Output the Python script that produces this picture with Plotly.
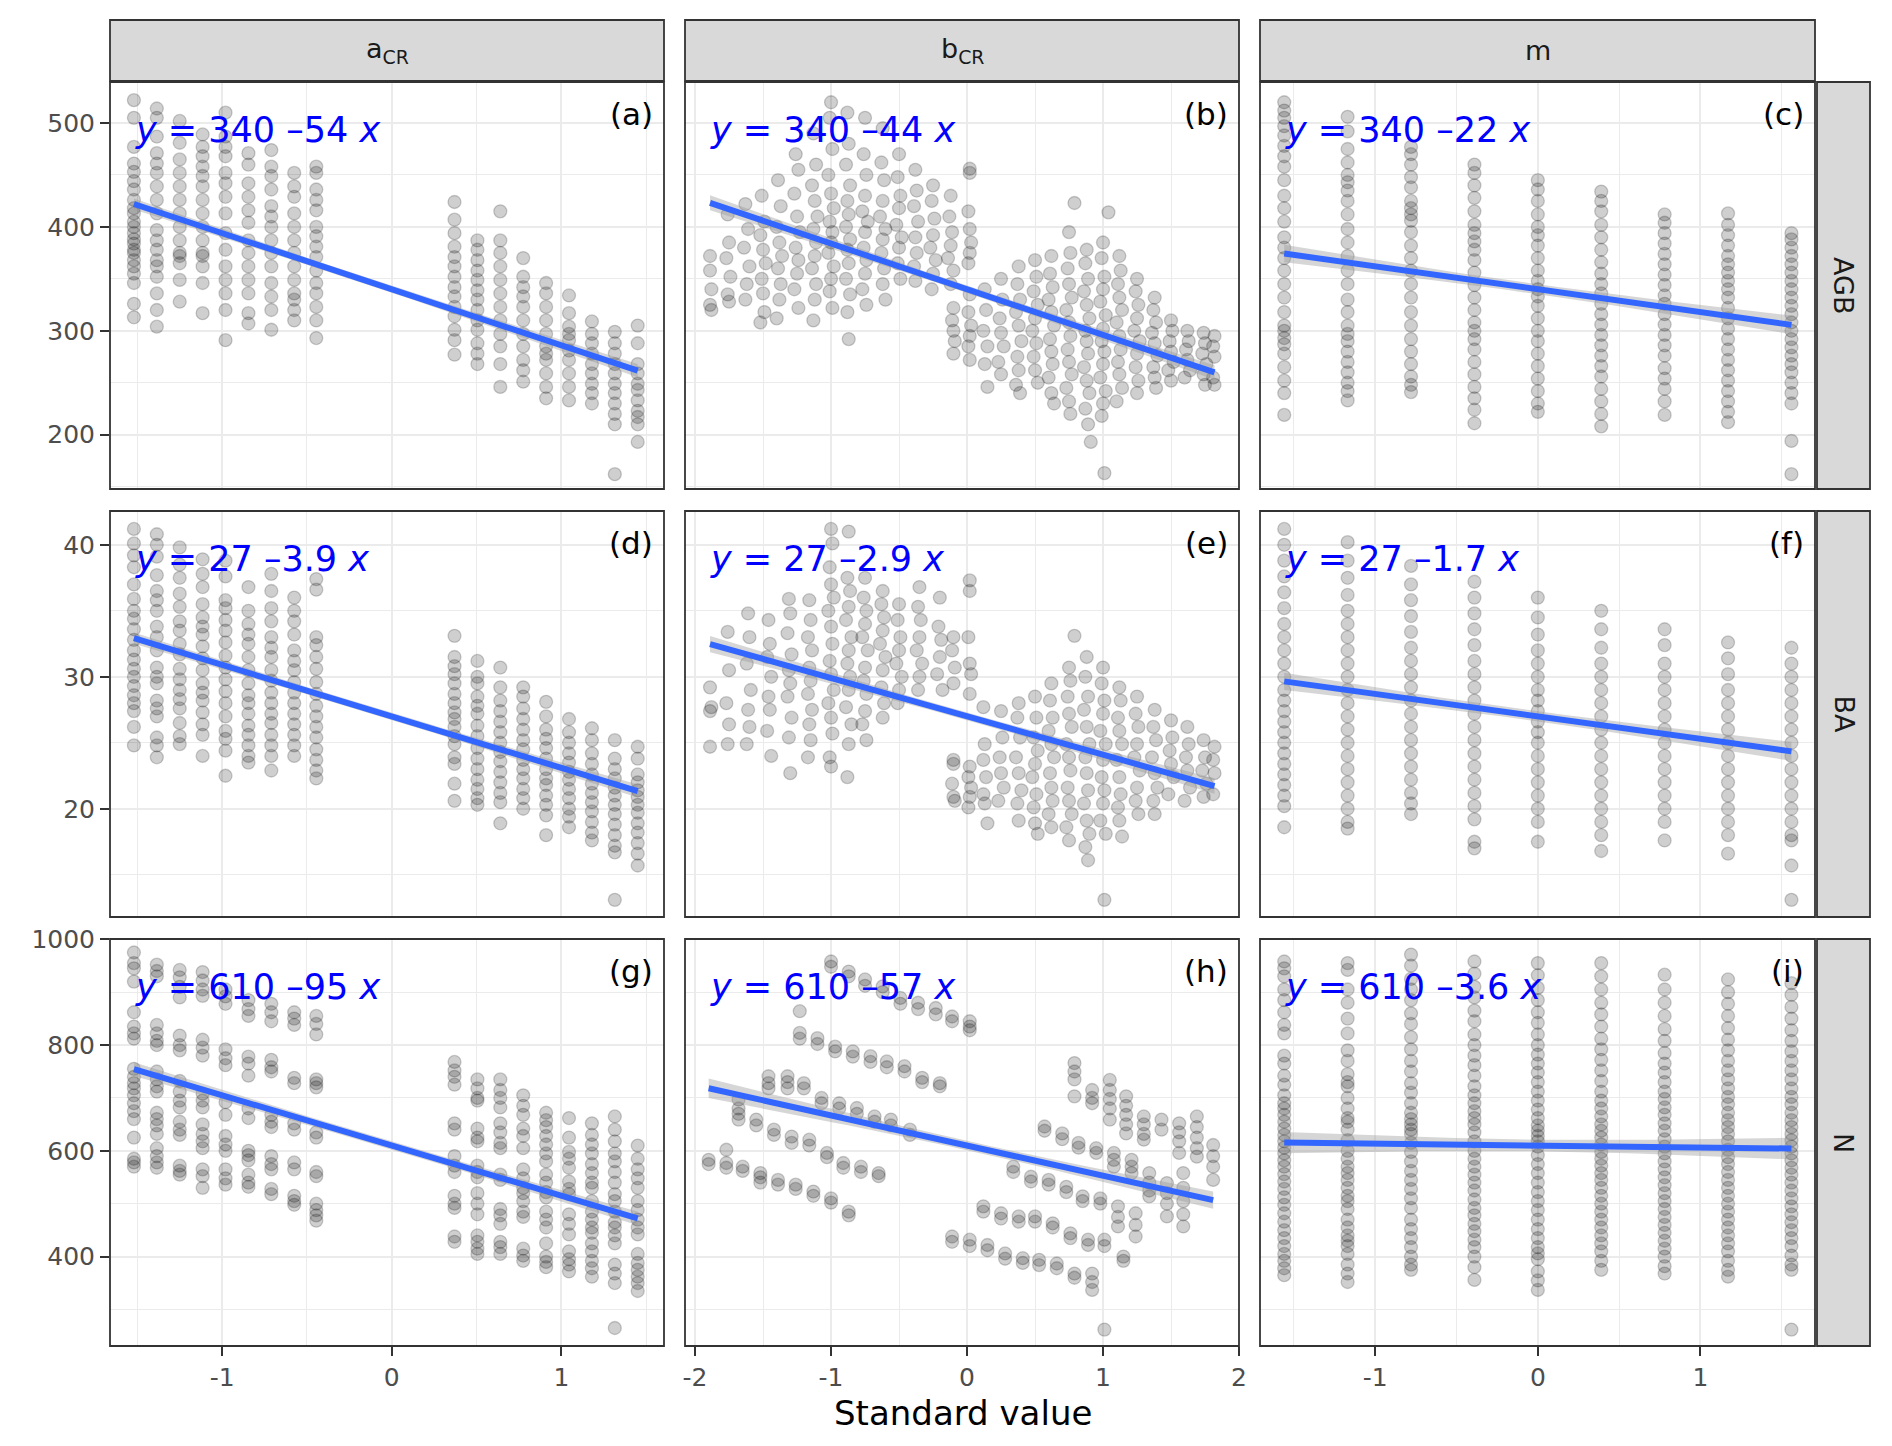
"""
plot.py - faceted scatter of AGB / BA / N against standardised a_CR, b_CR and m,
with a linear fit (line + 95% band) and the fitted equation in every panel.
"""

import numpy as np
import plotly.graph_objects as go

# ---------------------------------------------------------------------------
# DATA
# ---------------------------------------------------------------------------
ROW_LABELS = ["AGB", "BA", "N"]
COL_LABELS = ["a<sub>CR</sub>", "b<sub>CR</sub>", "m"]
PANEL_TAGS = ["(a)", "(b)", "(c)", "(d)", "(e)", "(f)", "(g)", "(h)", "(i)"]

# fitted coefficients shown in the panels
INTERCEPTS = [340, 27, 610]
SLOPES = [[-54, -44, -22], [-3.9, -2.9, -1.7], [-95, -57, -3.6]]
N_RUNS = 900  # size of the full simulation set behind the fit

# standardised levels of the discrete designs
ACR_LEVELS = [-1.52, -1.385, -1.25, -1.115, -0.98, -0.845, -0.71, -0.575, -0.445,
              0.37, 0.505, 0.64, 0.775, 0.91, 1.045, 1.18, 1.315, 1.45]
M_LEVELS = [-1.56, -1.17, -0.78, -0.39, 0.0, 0.39, 0.78, 1.17, 1.56]

# ---- AGB ------------------------------------------------------------------
AGB_ACR = [
    [522, 505, 477, 461, 453, 444, 436, 426, 418, 413, 405, 400, 394, 388, 384, 378, 375, 368, 362, 355, 346, 326, 313],
    [514, 505, 487, 471, 461, 452, 439, 426, 413, 397, 387, 378, 368, 362, 352, 336, 320, 304],
    [502, 481, 465, 452, 439, 426, 413, 400, 387, 375, 372, 365, 349, 328],
    [489, 477, 468, 458, 449, 439, 426, 413, 400, 387, 375, 372, 362, 346, 317],
    [510, 487, 477, 468, 452, 442, 429, 413, 394, 378, 362, 349, 336, 320, 291],
    [471, 460, 442, 429, 416, 404, 387, 375, 362, 349, 336, 317, 307],
    [474, 458, 449, 436, 420, 410, 400, 387, 375, 362, 346, 333, 320, 301],
    [452, 439, 429, 413, 400, 387, 375, 362, 349, 336, 330, 320, 310],
    [458, 452, 436, 426, 416, 400, 391, 381, 371, 358, 346, 336, 323, 310, 293],
    [424, 407, 394, 381, 371, 362, 352, 342, 333, 323, 314, 301, 291, 277],
    [387, 378, 368, 358, 349, 339, 330, 320, 310, 301, 288, 278, 268],
    [415, 387, 375, 362, 349, 336, 323, 310, 297, 285, 268, 246],
    [370, 352, 342, 333, 323, 310, 297, 285, 272, 262, 251],
    [346, 336, 323, 310, 297, 285, 278, 272, 259, 246, 235],
    [334, 317, 304, 297, 291, 281, 272, 259, 246, 233],
    [309, 297, 288, 278, 268, 259, 249, 240, 230],
    [299, 288, 278, 268, 259, 249, 240, 230, 220, 210, 162],
    [305, 288, 268, 259, 249, 243, 233, 223, 217, 210, 193],
]

AGB_BCR = [
    (-1.89, 372), (-1.89, 358), (-1.88, 340), (-1.89, 325), (-1.88, 320),
    (-1.76, 412), (-1.75, 385), (-1.77, 370), (-1.74, 352), (-1.76, 335), (-1.75, 328),
    (-1.63, 422), (-1.61, 398), (-1.64, 380), (-1.60, 362), (-1.62, 345), (-1.63, 330),
    (-1.51, 430), (-1.49, 405), (-1.52, 392), (-1.50, 378), (-1.48, 365), (-1.51, 350), (-1.50, 336), (-1.49, 318), (-1.52, 308),
    (-1.39, 445), (-1.37, 420), (-1.40, 400), (-1.38, 385), (-1.36, 372), (-1.39, 360), (-1.37, 345), (-1.38, 330), (-1.40, 312),
    (-1.26, 470), (-1.24, 455), (-1.27, 432), (-1.25, 410), (-1.23, 395), (-1.26, 380), (-1.24, 368), (-1.25, 355), (-1.27, 340), (-1.24, 322),
    (-1.13, 490), (-1.11, 460), (-1.14, 440), (-1.12, 425), (-1.10, 410), (-1.13, 398), (-1.11, 385), (-1.12, 372), (-1.14, 360), (-1.11, 345), (-1.12, 330), (-1.13, 310),
    (-1.00, 520), (-1.01, 505), (-0.99, 475), (-1.02, 450), (-1.00, 432), (-0.98, 418), (-1.01, 405), (-0.99, 395), (-1.00, 385), (-1.02, 375), (-0.98, 362), (-1.00, 350), (-1.01, 338), (-0.99, 322),
    (-0.88, 510), (-0.87, 480), (-0.89, 460), (-0.86, 440), (-0.88, 425), (-0.87, 412), (-0.89, 400), (-0.86, 388), (-0.88, 378), (-0.87, 365), (-0.89, 350), (-0.86, 335), (-0.88, 318), (-0.87, 292),
    (-0.75, 505), (-0.76, 470), (-0.74, 450), (-0.75, 430), (-0.77, 415), (-0.73, 405), (-0.75, 395), (-0.76, 380), (-0.74, 368), (-0.75, 355), (-0.77, 340), (-0.74, 325),
    (-0.62, 495), (-0.63, 462), (-0.61, 445), (-0.62, 425), (-0.64, 410), (-0.60, 398), (-0.62, 388), (-0.63, 375), (-0.61, 360), (-0.62, 345), (-0.60, 330),
    (-0.50, 470), (-0.51, 448), (-0.49, 430), (-0.50, 418), (-0.52, 402), (-0.48, 390), (-0.50, 380), (-0.51, 365), (-0.49, 350),
    (-0.38, 455), (-0.37, 435), (-0.39, 420), (-0.36, 405), (-0.38, 390), (-0.37, 375), (-0.39, 362), (-0.38, 348),
    (-0.25, 440), (-0.26, 425), (-0.24, 408), (-0.25, 392), (-0.27, 380), (-0.23, 368), (-0.25, 355), (-0.26, 340),
    (-0.12, 430), (-0.13, 410), (-0.11, 395), (-0.12, 382), (-0.14, 370), (-0.10, 358), (-0.12, 345),
    (0.02, 456), (0.02, 452), (0.01, 415), (0.02, 398), (0.03, 385), (0.02, 375), (0.01, 365),
    (-0.10, 322), (-0.11, 310), (-0.10, 300), (-0.09, 290), (-0.10, 278),
    (0.02, 335), (0.01, 318), (0.03, 305), (0.02, 295), (0.01, 285), (0.02, 272),
    (0.13, 340), (0.14, 320), (0.12, 300), (0.15, 285), (0.13, 268), (0.15, 246),
    (0.25, 350), (0.26, 330), (0.24, 312), (0.25, 298), (0.27, 285), (0.23, 270), (0.25, 258),
    (0.38, 362), (0.37, 345), (0.39, 330), (0.36, 318), (0.38, 305), (0.40, 290), (0.37, 275), (0.38, 262), (0.36, 248), (0.39, 240),
    (0.50, 368), (0.51, 352), (0.49, 338), (0.52, 325), (0.50, 312), (0.48, 300), (0.51, 288), (0.49, 275), (0.50, 262), (0.52, 250),
    (0.62, 372), (0.61, 355), (0.63, 342), (0.60, 330), (0.62, 318), (0.64, 305), (0.61, 292), (0.62, 280), (0.63, 268), (0.60, 255), (0.62, 240), (0.64, 230),
    (0.79, 423), (0.75, 395), (0.76, 375), (0.74, 360), (0.75, 345), (0.77, 332), (0.73, 320), (0.75, 308), (0.76, 295), (0.74, 282), (0.75, 270), (0.77, 258), (0.73, 245), (0.75, 232), (0.76, 220),
    (0.88, 378), (0.87, 365), (0.89, 350), (0.86, 338), (0.88, 325), (0.90, 312), (0.87, 300), (0.88, 290), (0.89, 278), (0.86, 265), (0.88, 252), (0.90, 240), (0.87, 225), (0.89, 210), (0.91, 193),
    (1.04, 414), (1.00, 385), (0.99, 370), (1.01, 352), (1.00, 340), (0.98, 328), (1.02, 315), (1.00, 302), (0.99, 290), (1.01, 280), (1.00, 268), (0.98, 255), (1.02, 242), (1.00, 230), (0.99, 218), (1.01, 163),
    (1.12, 372), (1.13, 358), (1.11, 345), (1.12, 332), (1.14, 320), (1.10, 308), (1.12, 295), (1.13, 282), (1.11, 270), (1.12, 258), (1.14, 245), (1.10, 232),
    (1.25, 350), (1.24, 338), (1.26, 325), (1.25, 312), (1.23, 300), (1.27, 290), (1.25, 278), (1.24, 265), (1.26, 252), (1.25, 240),
    (1.38, 332), (1.37, 320), (1.39, 308), (1.36, 298), (1.38, 288), (1.40, 276), (1.37, 265), (1.38, 255), (1.39, 245),
    (1.50, 310), (1.51, 300), (1.49, 290), (1.50, 280), (1.52, 270), (1.48, 262), (1.50, 252),
    (1.62, 300), (1.63, 290), (1.61, 282), (1.62, 272), (1.64, 262), (1.60, 255),
    (1.74, 298), (1.75, 288), (1.73, 278), (1.76, 268), (1.74, 258), (1.75, 248),
    (1.82, 295), (1.81, 285), (1.82, 275), (1.81, 255), (1.82, 248),
]

AGB_M = [
    [520, 512, 505, 497, 488, 478, 468, 458, 445, 430, 418, 405, 390, 380, 370, 358, 345, 332, 318, 305, 300, 293, 287, 278, 265, 252, 240, 219],
    [506, 492, 475, 462, 450, 443, 435, 425, 412, 398, 385, 372, 358, 345, 330, 318, 305, 297, 290, 280, 270, 260, 250, 242, 233],
    [477, 470, 460, 448, 438, 425, 418, 412, 406, 395, 382, 370, 358, 345, 332, 318, 305, 292, 280, 268, 256, 248, 241],
    [460, 452, 440, 428, 415, 402, 394, 386, 378, 368, 356, 344, 332, 320, 308, 300, 292, 282, 270, 258, 246, 235, 224, 211],
    [445, 436, 425, 412, 400, 392, 382, 370, 358, 348, 340, 333, 324, 312, 300, 290, 278, 266, 254, 242, 230, 222],
    [434, 425, 415, 402, 390, 378, 366, 355, 345, 336, 326, 316, 306, 296, 286, 276, 266, 256, 244, 232, 220, 208],
    [412, 404, 394, 384, 374, 364, 354, 344, 334, 326, 316, 306, 296, 286, 276, 264, 254, 244, 232, 219],
    [413, 402, 392, 382, 372, 364, 356, 348, 340, 332, 322, 312, 302, 292, 282, 272, 262, 252, 242, 232, 222, 212],
    [394, 388, 380, 372, 364, 356, 348, 340, 332, 324, 316, 308, 300, 292, 284, 276, 268, 260, 250, 240, 230, 194, 162],
]

# ---- BA -------------------------------------------------------------------
BA_ACR = [
    [41.2, 40.1, 39.2, 38.3, 37.0, 35.9, 35.0, 34.4, 33.6, 32.8, 32.0, 31.3, 30.6, 30.0, 29.3, 28.6, 28.0, 27.4, 26.2, 24.8],
    [40.8, 40.0, 39.1, 37.7, 36.5, 35.8, 35.0, 33.8, 33.0, 32.0, 30.7, 30.0, 29.5, 28.2, 27.6, 27.0, 25.4, 24.8, 23.9],
    [39.8, 38.5, 37.5, 36.3, 35.3, 34.2, 33.5, 32.5, 31.7, 30.6, 29.8, 29.0, 28.3, 27.6, 26.5, 25.5, 24.9],
    [38.9, 37.8, 36.8, 35.5, 34.5, 33.8, 33.2, 32.3, 31.4, 30.5, 29.5, 28.8, 28.2, 27.3, 26.4, 25.6, 24.0],
    [38.8, 37.6, 35.8, 35.2, 34.3, 33.5, 32.6, 31.6, 30.7, 29.8, 28.9, 28.0, 27.0, 25.9, 25.3, 24.4, 22.5],
    [36.8, 35.0, 34.0, 33.2, 32.5, 31.5, 30.5, 29.5, 28.6, 28.0, 27.2, 26.3, 25.6, 24.8, 24.0, 23.5],
    [37.8, 36.5, 35.2, 34.2, 33.0, 32.2, 31.5, 30.5, 29.7, 28.8, 28.0, 27.2, 26.5, 25.6, 24.8, 24.0, 22.9],
    [36.0, 35.0, 34.2, 33.2, 32.0, 31.2, 30.5, 29.6, 28.8, 28.0, 27.2, 26.4, 25.6, 24.8, 24.0],
    [37.4, 36.6, 33.0, 32.4, 31.5, 30.6, 29.6, 28.7, 27.8, 27.0, 26.2, 25.4, 24.5, 23.7, 22.9, 22.3],
    [33.1, 31.5, 30.8, 30.2, 29.5, 28.7, 28.0, 27.3, 26.8, 26.2, 25.5, 24.9, 23.9, 23.4, 21.9, 20.6],
    [31.2, 30.0, 29.5, 28.5, 27.8, 27.2, 26.3, 25.5, 24.6, 23.8, 23.0, 22.2, 21.5, 20.8, 20.3],
    [30.7, 29.2, 28.2, 27.4, 26.6, 25.8, 25.0, 24.3, 23.6, 22.8, 22.0, 21.2, 20.5, 18.9],
    [29.2, 28.5, 27.6, 26.8, 26.0, 25.2, 24.5, 23.7, 23.0, 22.3, 21.5, 20.8, 20.0],
    [28.1, 27.0, 26.0, 25.3, 24.6, 23.8, 23.0, 22.3, 21.8, 21.0, 20.3, 19.5, 18.0],
    [26.8, 25.8, 25.0, 24.2, 23.5, 22.8, 22.2, 21.5, 20.8, 20.0, 19.4, 18.6],
    [26.1, 25.2, 24.2, 23.4, 22.6, 21.9, 21.2, 20.5, 19.8, 19.0, 18.2, 17.6],
    [25.2, 23.8, 23.0, 22.3, 21.6, 21.0, 20.3, 19.6, 18.8, 18.0, 17.2, 16.7, 13.1],
    [24.7, 23.8, 22.6, 22.0, 21.4, 20.9, 20.3, 19.7, 18.9, 18.2, 17.4, 16.6, 15.7],
]

BA_BCR = [
    (-1.89, 29.2), (-1.88, 27.7), (-1.89, 27.4), (-1.89, 24.7),
    (-1.76, 33.4), (-1.75, 30.5), (-1.77, 28.0), (-1.75, 26.4), (-1.76, 24.9),
    (-1.61, 34.8), (-1.60, 33.0), (-1.62, 31.0), (-1.59, 29.0), (-1.61, 27.5), (-1.60, 26.2), (-1.62, 24.9),
    (-1.46, 34.3), (-1.45, 32.5), (-1.47, 31.5), (-1.44, 30.0), (-1.46, 28.5), (-1.45, 27.5), (-1.47, 25.9), (-1.44, 24.0),
    (-1.31, 35.9), (-1.30, 34.8), (-1.32, 33.3), (-1.29, 31.7), (-1.31, 30.5), (-1.30, 29.5), (-1.32, 28.5), (-1.29, 26.9), (-1.31, 25.4), (-1.30, 22.7),
    (-1.16, 35.8), (-1.15, 34.3), (-1.17, 33.0), (-1.14, 32.0), (-1.16, 30.7), (-1.15, 29.7), (-1.17, 28.7), (-1.14, 27.5), (-1.16, 26.4), (-1.15, 25.2), (-1.17, 23.9),
    (-1.00, 41.2), (-0.99, 40.1), (-1.01, 38.3), (-1.00, 37.0), (-0.98, 36.0), (-1.02, 35.0), (-1.00, 33.8), (-0.99, 32.5), (-1.01, 31.2), (-1.00, 30.2), (-0.98, 29.0), (-1.02, 28.0), (-1.00, 26.9), (-0.99, 25.7), (-1.01, 23.9), (-1.00, 23.2),
    (-0.87, 41.0), (-0.88, 37.5), (-0.86, 36.5), (-0.87, 35.3), (-0.89, 34.3), (-0.85, 33.0), (-0.87, 32.0), (-0.88, 31.0), (-0.86, 30.0), (-0.87, 29.0), (-0.89, 27.7), (-0.85, 26.4), (-0.87, 24.9), (-0.88, 22.4),
    (-0.75, 37.5), (-0.76, 36.0), (-0.74, 35.0), (-0.75, 34.0), (-0.77, 33.0), (-0.73, 32.0), (-0.75, 30.7), (-0.76, 29.7), (-0.74, 28.7), (-0.75, 27.4), (-0.77, 26.4), (-0.74, 25.2),
    (-0.62, 36.5), (-0.63, 35.5), (-0.61, 34.5), (-0.62, 33.5), (-0.64, 32.5), (-0.60, 31.5), (-0.62, 30.5), (-0.63, 29.2), (-0.61, 28.0), (-0.62, 26.9),
    (-0.50, 35.5), (-0.51, 34.3), (-0.49, 33.0), (-0.50, 32.0), (-0.52, 31.0), (-0.48, 30.0), (-0.50, 29.0), (-0.51, 28.0),
    (-0.35, 36.8), (-0.36, 35.3), (-0.34, 34.3), (-0.35, 33.0), (-0.37, 32.0), (-0.33, 31.0), (-0.35, 30.0), (-0.36, 29.0),
    (-0.20, 36.0), (-0.21, 33.8), (-0.19, 32.8), (-0.20, 31.5), (-0.22, 30.2), (-0.18, 29.0),
    (-0.10, 33.0), (-0.11, 32.0), (-0.09, 30.7), (-0.10, 29.5),
    (0.02, 37.3), (0.02, 36.5), (0.01, 33.0), (0.02, 31.0), (0.03, 30.2), (0.02, 28.7),
    (-0.10, 23.7), (-0.10, 23.4), (-0.11, 21.9), (-0.10, 20.9), (-0.09, 20.6),
    (0.02, 23.2), (0.01, 22.4), (0.03, 21.6), (0.02, 20.9), (0.01, 20.1),
    (0.12, 27.7), (0.13, 24.9), (0.12, 23.7), (0.14, 22.4), (0.12, 21.1), (0.13, 20.4), (0.15, 18.9),
    (0.25, 27.4), (0.26, 25.4), (0.24, 23.9), (0.25, 22.7), (0.27, 21.6), (0.23, 20.6),
    (0.38, 28.0), (0.37, 26.9), (0.39, 25.4), (0.36, 23.9), (0.38, 22.7), (0.40, 21.4), (0.37, 20.4), (0.38, 19.1),
    (0.50, 28.5), (0.51, 26.9), (0.49, 25.4), (0.52, 24.4), (0.50, 23.4), (0.48, 22.4), (0.51, 21.1), (0.49, 20.1), (0.50, 18.9), (0.52, 18.1),
    (0.62, 29.5), (0.61, 28.2), (0.63, 26.9), (0.60, 25.9), (0.62, 24.9), (0.64, 23.9), (0.61, 22.7), (0.62, 21.6), (0.63, 20.6), (0.60, 19.6), (0.62, 18.6),
    (0.75, 30.7), (0.76, 29.7), (0.74, 28.5), (0.75, 27.2), (0.77, 26.2), (0.73, 24.9), (0.75, 23.9), (0.76, 22.9), (0.74, 21.6), (0.75, 20.6), (0.77, 19.6), (0.73, 18.6), (0.75, 17.6),
    (0.79, 33.1),
    (0.88, 31.5), (0.87, 30.0), (0.89, 28.5), (0.86, 27.5), (0.88, 26.2), (0.90, 24.9), (0.87, 23.9), (0.88, 22.7), (0.89, 21.4), (0.86, 20.4), (0.88, 19.1), (0.90, 18.1), (0.87, 17.1), (0.89, 16.1),
    (1.00, 30.7), (0.99, 29.5), (1.01, 28.2), (1.00, 27.2), (0.98, 25.9), (1.02, 24.9), (1.00, 23.7), (0.99, 22.4), (1.01, 21.4), (1.00, 20.4), (0.98, 19.1), (1.02, 18.1), (1.01, 13.1),
    (1.12, 29.2), (1.13, 28.2), (1.11, 26.9), (1.12, 25.9), (1.14, 24.9), (1.10, 23.7), (1.12, 22.4), (1.13, 21.1), (1.11, 20.1), (1.12, 19.1), (1.14, 17.9),
    (1.25, 28.5), (1.24, 27.2), (1.26, 26.2), (1.25, 24.9), (1.23, 23.9), (1.27, 22.9), (1.25, 21.6), (1.24, 20.6), (1.26, 19.6),
    (1.38, 27.5), (1.37, 26.2), (1.39, 25.2), (1.36, 23.9), (1.38, 22.7), (1.40, 21.6), (1.37, 20.6), (1.38, 19.6),
    (1.50, 26.7), (1.51, 25.4), (1.49, 24.4), (1.50, 23.4), (1.52, 22.4), (1.48, 21.1),
    (1.62, 26.2), (1.63, 24.9), (1.61, 23.9), (1.62, 22.9), (1.64, 21.6), (1.60, 20.6),
    (1.74, 25.2), (1.75, 23.9), (1.73, 22.9), (1.76, 21.9), (1.74, 20.9),
    (1.82, 24.7), (1.81, 23.7), (1.82, 22.7), (1.81, 21.1),
]

BA_M = [
    [41.2, 40.0, 38.8, 37.6, 36.4, 35.2, 34.0, 33.0, 32.0, 31.0, 30.0, 29.0, 28.2, 27.4, 26.6, 25.8, 25.0, 24.2, 23.4, 22.6, 21.8, 21.0, 20.2, 18.6],
    [40.2, 38.8, 37.5, 36.2, 35.0, 34.0, 33.0, 32.0, 31.0, 30.0, 29.0, 28.0, 27.0, 26.0, 25.0, 24.0, 23.0, 22.0, 21.0, 20.0, 19.0, 18.5],
    [38.4, 37.0, 35.8, 34.6, 33.4, 32.2, 31.2, 30.2, 29.2, 28.2, 27.2, 26.2, 25.2, 24.2, 23.2, 22.2, 21.2, 20.4, 19.6],
    [37.2, 36.0, 34.8, 33.6, 32.4, 31.2, 30.2, 29.2, 28.2, 27.2, 26.2, 25.2, 24.2, 23.2, 22.2, 21.2, 20.2, 19.2, 17.5, 17.0],
    [36.0, 34.5, 33.2, 32.0, 31.0, 30.0, 29.0, 28.2, 27.4, 26.6, 25.8, 25.0, 24.0, 23.0, 22.0, 21.0, 20.0, 19.0, 17.5],
    [35.0, 33.6, 32.2, 31.0, 30.0, 29.0, 28.0, 27.0, 26.0, 25.0, 24.0, 23.0, 22.0, 21.0, 20.0, 19.0, 18.0, 16.8],
    [33.6, 32.4, 31.0, 30.0, 29.0, 28.0, 27.0, 26.0, 25.0, 24.0, 23.0, 22.0, 21.0, 20.0, 19.0, 17.6],
    [32.6, 31.4, 30.2, 29.0, 28.0, 27.0, 26.0, 25.0, 24.0, 23.0, 22.0, 21.0, 20.0, 19.0, 18.0, 16.6],
    [32.2, 31.0, 30.0, 29.0, 28.0, 27.0, 26.0, 25.0, 24.0, 23.0, 22.0, 21.0, 20.0, 19.0, 18.0, 17.6, 15.7, 13.1],
]

# ---- N --------------------------------------------------------------------
N_ACR = [
    [975, 955, 945, 920, 862, 835, 822, 812, 755, 740, 728, 718, 705, 690, 675, 660, 625, 585, 578, 570],
    [952, 940, 930, 838, 822, 808, 800, 750, 735, 722, 712, 672, 660, 648, 632, 605, 590, 578, 568],
    [942, 928, 910, 890, 818, 800, 790, 732, 712, 695, 682, 655, 640, 630, 572, 562, 555],
    [938, 922, 905, 893, 810, 795, 780, 708, 695, 682, 650, 632, 618, 605, 565, 552, 530],
    [905, 892, 878, 792, 775, 762, 692, 668, 628, 612, 600, 565, 548, 536],
    [885, 868, 855, 778, 765, 742, 680, 662, 600, 592, 582, 555, 540, 532],
    [878, 862, 845, 772, 758, 750, 668, 655, 645, 590, 575, 565, 528, 518],
    [862, 850, 838, 738, 728, 652, 640, 578, 565, 515, 505, 498],
    [855, 840, 820, 735, 728, 720, 635, 625, 560, 552, 500, 488, 478, 468],
    [768, 752, 740, 725, 652, 640, 590, 572, 560, 515, 500, 492, 438, 428],
    [735, 718, 700, 695, 642, 625, 618, 572, 560, 550, 520, 500, 480, 440, 428, 415, 405],
    [735, 715, 700, 682, 652, 635, 615, 605, 555, 545, 490, 478, 462, 428, 418, 405],
    [705, 685, 668, 642, 628, 605, 565, 548, 530, 520, 505, 485, 475, 415, 402, 392],
    [672, 658, 645, 628, 612, 595, 580, 555, 540, 522, 512, 485, 470, 455, 425, 400, 390, 380],
    [662, 625, 598, 585, 568, 542, 528, 518, 480, 462, 442, 410, 395, 385, 372],
    [652, 630, 612, 595, 575, 558, 540, 530, 505, 485, 470, 455, 445, 425, 410, 392, 378, 362],
    [665, 640, 618, 595, 580, 560, 540, 518, 505, 485, 465, 455, 440, 425, 385, 368, 350, 265],
    [610, 585, 565, 548, 530, 505, 488, 470, 455, 442, 405, 388, 375, 362, 350, 335],
]

N_BCR = [
    (-1.00, 958), (-1.00, 948), (-0.87, 939), (-0.87, 930), (-0.75, 924), (-0.75, 912),
    (-0.62, 911), (-0.62, 900), (-0.49, 889), (-0.49, 878), (-0.36, 880), (-0.36, 868),
    (-0.23, 870), (-0.23, 858), (-0.11, 854), (-0.11, 845), (0.02, 845), (0.02, 835), (0.02, 828),
    (-1.23, 864), (-1.23, 823), (-1.23, 812), (-1.10, 813), (-1.10, 802), (-0.97, 797), (-0.97, 788),
    (-0.84, 788), (-0.84, 778), (-0.71, 779), (-0.71, 768), (-0.59, 769), (-0.59, 758),
    (-0.46, 760), (-0.46, 750), (-0.33, 738), (-0.33, 730), (-0.20, 728), (-0.20, 722),
    (-1.68, 697), (-1.68, 680), (-1.68, 670), (-1.68, 659), (-1.46, 741), (-1.46, 728), (-1.46, 718),
    (-1.32, 741), (-1.32, 730), (-1.32, 718), (-1.20, 728), (-1.20, 718), (-1.07, 700), (-1.07, 690),
    (-0.94, 690), (-0.94, 680), (-0.81, 681), (-0.81, 670), (-0.68, 665), (-0.68, 655),
    (-0.56, 659), (-0.56, 648), (-0.42, 640), (-0.42, 630),
    (-1.55, 659), (-1.55, 648), (-1.42, 640), (-1.42, 630), (-1.29, 627), (-1.29, 615),
    (-1.16, 621), (-1.16, 610), (-1.03, 596), (-1.03, 588), (-0.91, 577), (-0.91, 568),
    (-0.78, 570), (-0.78, 560), (-0.65, 558), (-0.65, 552),
    (-1.90, 583), (-1.90, 575), (-1.77, 602), (-1.77, 577), (-1.77, 568), (-1.65, 570), (-1.65, 562),
    (-1.52, 558), (-1.52, 550), (-1.52, 540), (-1.39, 545), (-1.39, 536), (-1.26, 536), (-1.26, 528),
    (-1.13, 523), (-1.13, 515), (-1.00, 510), (-1.00, 502), (-0.87, 485), (-0.87, 478),
    (0.79, 766), (0.79, 750), (0.79, 735), (0.79, 703), (0.92, 715), (0.92, 700), (0.92, 690),
    (1.05, 734), (1.05, 715), (1.05, 698), (1.05, 680), (1.05, 659),
    (1.17, 703), (1.17, 685), (1.17, 668), (1.17, 650), (1.17, 633),
    (1.30, 665), (1.30, 650), (1.30, 632), (1.30, 621), (1.43, 659), (1.43, 640),
    (1.56, 652), (1.56, 635), (1.56, 618), (1.56, 596),
    (1.69, 665), (1.69, 645), (1.69, 625), (1.69, 605), (1.69, 589),
    (1.81, 611), (1.81, 590), (1.81, 570), (1.81, 545),
    (0.57, 646), (0.57, 638), (0.70, 633), (0.70, 622), (0.82, 615), (0.82, 606), (0.95, 605), (0.95, 596),
    (1.08, 596), (1.08, 583), (1.08, 570), (1.21, 583), (1.21, 570), (1.21, 558),
    (1.34, 558), (1.34, 540), (1.34, 525), (1.34, 514), (1.47, 539), (1.47, 520), (1.47, 500), (1.47, 476),
    (1.59, 558), (1.59, 530), (1.59, 505), (1.59, 480), (1.59, 457),
    (0.34, 570), (0.34, 560), (0.47, 551), (0.47, 542), (0.60, 545), (0.60, 536), (0.73, 532), (0.73, 522),
    (0.85, 514), (0.85, 505), (0.98, 510), (0.98, 500), (1.11, 495), (1.11, 475), (1.11, 457),
    (1.24, 482), (1.24, 460), (1.24, 438),
    (0.12, 495), (0.12, 485), (0.25, 482), (0.25, 472), (0.38, 476), (0.38, 466), (0.50, 476), (0.50, 466),
    (0.63, 463), (0.63, 455), (0.76, 444), (0.76, 435), (0.89, 432), (0.89, 422), (1.01, 432), (1.01, 420),
    (1.15, 400), (1.15, 392),
    (-0.11, 438), (-0.11, 428), (0.02, 432), (0.02, 420), (0.15, 422), (0.15, 412), (0.28, 406), (0.28, 396),
    (0.41, 397), (0.41, 388), (0.53, 394), (0.53, 384), (0.66, 387), (0.66, 378), (0.79, 368), (0.79, 360),
    (0.92, 368), (0.92, 352), (0.92, 337), (1.01, 262),
]

N_M = [
    [958, 945, 930, 905, 885, 862, 838, 822, 780, 765, 742, 725, 705, 690, 680, 668, 655, 642, 630, 618, 606, 595, 582, 570, 556, 542, 528, 512, 498, 482, 466, 450, 435, 420, 405, 392, 378, 365],
    [955, 942, 905, 880, 850, 822, 790, 770, 745, 730, 722, 700, 680, 662, 655, 640, 620, 600, 585, 570, 558, 545, 530, 515, 505, 490, 470, 455, 440, 430, 420, 405, 385, 368, 352],
    [971, 950, 925, 905, 885, 860, 840, 815, 792, 770, 750, 728, 710, 690, 672, 660, 650, 640, 632, 615, 598, 580, 562, 545, 528, 510, 492, 470, 452, 435, 418, 400, 385, 375],
    [958, 935, 910, 890, 865, 845, 820, 800, 780, 762, 742, 722, 705, 690, 675, 662, 650, 635, 618, 600, 585, 570, 555, 540, 525, 508, 492, 478, 462, 448, 432, 418, 400, 380, 356],
    [955, 932, 908, 885, 862, 842, 820, 800, 782, 765, 748, 730, 712, 695, 678, 662, 648, 638, 628, 618, 608, 592, 575, 558, 540, 522, 505, 488, 470, 452, 435, 418, 406, 395, 372, 355, 337],
    [955, 930, 905, 880, 858, 835, 812, 792, 772, 752, 732, 712, 695, 680, 665, 650, 638, 625, 612, 598, 585, 572, 558, 545, 530, 515, 500, 485, 470, 455, 440, 425, 410, 392, 375],
    [933, 905, 880, 855, 830, 808, 785, 765, 748, 730, 712, 698, 682, 668, 652, 638, 622, 608, 595, 580, 565, 550, 535, 520, 505, 490, 475, 460, 445, 430, 415, 400, 382, 368],
    [924, 900, 878, 855, 832, 810, 790, 770, 752, 735, 718, 702, 688, 672, 658, 645, 632, 618, 602, 588, 575, 560, 545, 530, 515, 500, 485, 470, 455, 440, 425, 410, 392, 375, 362],
    [917, 895, 872, 850, 828, 808, 788, 770, 752, 735, 718, 702, 688, 672, 658, 645, 632, 620, 608, 595, 582, 568, 555, 540, 525, 510, 495, 480, 465, 450, 435, 420, 402, 385, 375, 262],
]

# axis ticks
X_TICKS = [[-1, 0, 1], [-2, -1, 0, 1, 2], [-1, 0, 1]]
Y_TICKS = [[200, 300, 400, 500], [20, 30, 40], [400, 600, 800, 1000]]

# ---------------------------------------------------------------------------
# LAYOUT CONSTANTS (pixels of the 1892 x 1446 screenshot)
# ---------------------------------------------------------------------------
PAGE_PAD = 8  # default body margin of the html page
W, H = 1892 - PAGE_PAD, 1446 - PAGE_PAD
COL_PX = [(110, 664), (685, 1239), (1260, 1815)]
ROW_PX = [(82, 489), (511, 917), (939, 1346)]
TOP_STRIP_PX = (20, 81)
RIGHT_STRIP_PX = (1817, 1870)
X_RANGES = [(-1.661, 1.605), (-2.074, 2.0), (-1.709, 1.705)]
Y_RANGES = [(147.7, 539.5), (11.8, 42.56), (231.0, 1000.5)]
X_MINOR = [0.5, 0.5, 0.5]
Y_MINOR = [50, 5, 100]

FONT = "DejaVu Sans"
GRID = "#EBEBEB"
DARK = "#333333"
POINT = "rgba(0,0,0,0.19)"
FIT_BLUE = "#3366FF"


def px_x(v):
    return (v - PAGE_PAD) / W


def px_y(v):
    return 1 - (v - PAGE_PAD) / H


def expand_columns(levels, columns):
    xs, ys = [], []
    for lv, col in zip(levels, columns):
        xs.extend([lv] * len(col))
        ys.extend(col)
    return np.array(xs, float), np.array(ys, float)


def unzip(pairs):
    arr = np.array(pairs, float)
    return arr[:, 0], arr[:, 1]


PANEL_DATA = [
    [expand_columns(ACR_LEVELS, AGB_ACR), unzip(AGB_BCR), expand_columns(M_LEVELS, AGB_M)],
    [expand_columns(ACR_LEVELS, BA_ACR), unzip(BA_BCR), expand_columns(M_LEVELS, BA_M)],
    [expand_columns(ACR_LEVELS, N_ACR), unzip(N_BCR), expand_columns(M_LEVELS, N_M)],
]

fig = go.Figure()
shapes = []
annotations = []
layout_axes = {}

for r in range(3):
    for c in range(3):
        n = r * 3 + c + 1
        xa = "x" if n == 1 else f"x{n}"
        ya = "y" if n == 1 else f"y{n}"
        xs, ys = PANEL_DATA[r][c]
        a, b = INTERCEPTS[r], SLOPES[r][c]

        # points
        fig.add_trace(go.Scatter(
            x=xs, y=ys, mode="markers", xaxis=xa, yaxis=ya, showlegend=False,
            hoverinfo="skip",
            marker=dict(size=13, color=POINT, line=dict(color=POINT, width=1.3)),
        ))

        # fitted line with 95% confidence band (residual spread from the points,
        # sample size of the full run set)
        xfit = np.linspace(xs.min(), xs.max(), 60)
        yfit = a + b * xfit
        resid = ys - (a + b * xs)
        s = np.sqrt(np.sum(resid ** 2) / (len(xs) - 2))
        xm = xs.mean()
        var_x = np.var(xs)
        half = 1.96 * s * np.sqrt(1 / N_RUNS + (xfit - xm) ** 2 / (N_RUNS * var_x))
        fig.add_trace(go.Scatter(
            x=np.concatenate([xfit, xfit[::-1]]),
            y=np.concatenate([yfit + half, (yfit - half)[::-1]]),
            fill="toself", fillcolor="rgba(153,153,153,0.4)", line=dict(width=0),
            mode="lines", xaxis=xa, yaxis=ya, showlegend=False, hoverinfo="skip",
        ))
        fig.add_trace(go.Scatter(
            x=xfit, y=yfit, mode="lines", xaxis=xa, yaxis=ya, showlegend=False,
            line=dict(color=FIT_BLUE, width=6), hoverinfo="skip",
        ))

        x0, x1 = COL_PX[c]
        y0, y1 = ROW_PX[r]
        bottom = r == 2
        left = c == 0
        layout_axes["xaxis" if n == 1 else f"xaxis{n}"] = dict(
            domain=[px_x(x0), px_x(x1)], anchor=ya, range=list(X_RANGES[c]),
            tickmode="array", tickvals=X_TICKS[c], ticktext=[str(t) for t in X_TICKS[c]],
            showticklabels=bottom, ticks="outside" if bottom else "",
            ticklen=9, tickwidth=2, tickcolor=DARK,
            tickfont=dict(family=FONT, size=25, color="#4D4D4D"),
            showgrid=True, gridcolor=GRID, gridwidth=2.2, zeroline=False, showline=False,
            minor=dict(dtick=X_MINOR[c], tick0=0, showgrid=True, gridcolor=GRID, gridwidth=1.2),
            automargin=False, fixedrange=True,
        )
        layout_axes["yaxis" if n == 1 else f"yaxis{n}"] = dict(
            domain=[px_y(y1), px_y(y0)], anchor=xa, range=list(Y_RANGES[r]),
            tickmode="array", tickvals=Y_TICKS[r], ticktext=[str(t) for t in Y_TICKS[r]],
            showticklabels=left, ticks="outside" if left else "",
            ticklen=9, tickwidth=2, tickcolor=DARK,
            tickfont=dict(family=FONT, size=25, color="#4D4D4D"),
            showgrid=True, gridcolor=GRID, gridwidth=2.2, zeroline=False, showline=False,
            minor=dict(dtick=Y_MINOR[r], tick0=0, showgrid=True, gridcolor=GRID, gridwidth=1.2),
            automargin=False, fixedrange=True,
        )

        # panel border
        shapes.append(dict(type="rect", xref="paper", yref="paper", layer="above",
                           x0=px_x(x0), x1=px_x(x1), y0=px_y(y1), y1=px_y(y0),
                           line=dict(color=DARK, width=1.8)))

        # equation and panel tag
        annotations.append(dict(
            xref=f"{xa} domain", yref=f"{ya} domain", x=0.042, y=0.882,
            xanchor="left", yanchor="middle", showarrow=False,
            text=f"<i>y</i> = {a:g} \u2013{abs(b):g} <i>x</i>",
            font=dict(family=FONT, size=35, color="#0000FF"),
        ))
        annotations.append(dict(
            xref=f"{xa} domain", yref=f"{ya} domain", x=0.983, y=0.922,
            xanchor="right", yanchor="middle", showarrow=False,
            text=PANEL_TAGS[n - 1], font=dict(family=FONT, size=31, color="black"),
        ))

# top strips (columns)
for c in range(3):
    x0, x1 = COL_PX[c]
    shapes.append(dict(type="rect", xref="paper", yref="paper", layer="below",
                       x0=px_x(x0), x1=px_x(x1), y0=px_y(TOP_STRIP_PX[1]), y1=px_y(TOP_STRIP_PX[0]),
                       fillcolor="#D9D9D9", line=dict(color=DARK, width=1.8)))
    annotations.append(dict(
        xref="paper", yref="paper", x=px_x((x0 + x1) / 2), y=px_y(sum(TOP_STRIP_PX) / 2),
        xanchor="center", yanchor="middle", showarrow=False, text=COL_LABELS[c],
        font=dict(family=FONT, size=27, color="#1A1A1A"),
    ))

# right strips (rows)
for r in range(3):
    y0, y1 = ROW_PX[r]
    shapes.append(dict(type="rect", xref="paper", yref="paper", layer="below",
                       x0=px_x(RIGHT_STRIP_PX[0]), x1=px_x(RIGHT_STRIP_PX[1]), y0=px_y(y1), y1=px_y(y0),
                       fillcolor="#D9D9D9", line=dict(color=DARK, width=1.8)))
    annotations.append(dict(
        xref="paper", yref="paper", x=px_x(sum(RIGHT_STRIP_PX) / 2), y=px_y((y0 + y1) / 2),
        xanchor="center", yanchor="middle", showarrow=False, text=ROW_LABELS[r], textangle=90,
        font=dict(family=FONT, size=27, color="#1A1A1A"),
    ))

# shared x-axis title
annotations.append(dict(
    xref="paper", yref="paper", x=px_x((COL_PX[0][0] + COL_PX[2][1]) / 2), y=px_y(1413),
    xanchor="center", yanchor="middle", showarrow=False, text="Standard value",
    font=dict(family=FONT, size=34, color="black"),
))

fig.update_layout(
    width=W, height=H,
    margin=dict(l=0, r=0, t=0, b=0),
    paper_bgcolor="white", plot_bgcolor="white",
    font=dict(family=FONT),
    shapes=shapes, annotations=annotations,
    showlegend=False,
    **layout_axes,
)

fig.write_html("out.html")
